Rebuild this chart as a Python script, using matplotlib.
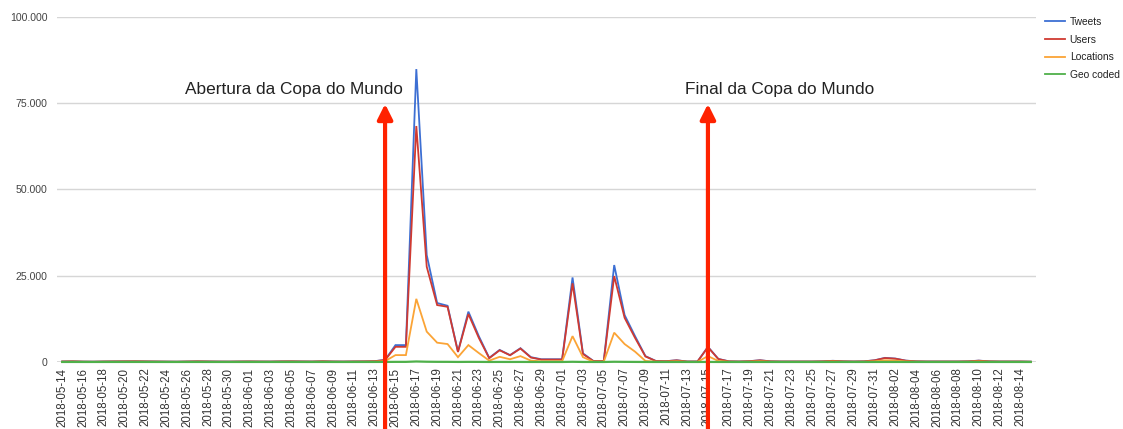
import matplotlib
matplotlib.use("Agg")
import matplotlib.pyplot as plt
import pandas as pd
from matplotlib.lines import Line2D

plt.rcParams['font.family'] = ['Liberation Sans', 'DejaVu Sans']

dates = pd.date_range('2018-05-14', '2018-08-15').strftime('%Y-%m-%d').tolist()

tweets = [150, 200, 120, 100, 150, 180, 200, 220, 180, 150, 120, 100, 150, 200, 160, 130,
          120, 150, 170, 140, 130, 180, 200, 160, 140, 220, 150, 130, 170, 190, 250,
          600, 4900, 4900, 84900, 31000, 17100, 16300, 3000, 14600, 7500, 1200, 3500, 2000,
          4000, 1400, 800, 800, 800, 24500, 2500, 300, 300, 28100, 13600, 7500, 1700, 300,
          250, 500, 150, 150, 4400, 900, 200, 150, 250, 500, 200, 150, 150, 150, 150, 200,
          350, 200, 150, 200, 500, 1200, 1000, 400, 200, 150, 150, 150, 150, 200, 400, 200,
          150, 150, 150, 100]
users = [140, 190, 110, 90, 140, 170, 190, 210, 170, 140, 110, 90, 140, 190, 150, 120,
         110, 140, 160, 130, 120, 170, 190, 150, 130, 210, 140, 120, 160, 180, 240,
         550, 4400, 4400, 68400, 27600, 16500, 16000, 2900, 13900, 7000, 1100, 3400, 1950,
         3900, 1300, 700, 700, 700, 22800, 2300, 280, 280, 24900, 12800, 7000, 1600, 280,
         240, 480, 140, 140, 4300, 850, 190, 140, 240, 480, 190, 140, 140, 140, 140, 190,
         330, 190, 140, 190, 480, 1150, 950, 380, 190, 140, 140, 140, 140, 190, 380, 190,
         140, 140, 140, 90]
locations = [60, 80, 50, 40, 60, 70, 80, 90, 70, 60, 50, 40, 60, 80, 60, 50,
             50, 60, 70, 60, 50, 70, 80, 60, 60, 90, 60, 50, 70, 80, 100,
             250, 2000, 2000, 18300, 8800, 5600, 5200, 1400, 4900, 2600, 400, 1500, 800,
             1700, 400, 200, 200, 200, 7500, 1400, 100, 100, 8500, 5200, 3000, 300, 100,
             100, 200, 60, 60, 1700, 300, 80, 60, 100, 200, 80, 60, 60, 60, 60, 80,
             140, 80, 60, 80, 200, 500, 400, 160, 80, 60, 60, 60, 60, 80, 160, 80,
             60, 60, 60, 40]
geo_coded = [10, 12, 8, 8, 10, 12, 12, 14, 12, 10, 8, 8, 10, 12, 10, 9,
             8, 10, 11, 10, 9, 12, 12, 10, 10, 14, 10, 9, 11, 12, 14,
             20, 40, 40, 150, 80, 50, 45, 20, 40, 30, 12, 20, 15,
             20, 12, 10, 10, 10, 60, 15, 8, 8, 70, 40, 25, 12, 8,
             8, 10, 8, 8, 20, 10, 8, 8, 8, 10, 8, 8, 8, 8, 8, 8,
             9, 8, 8, 8, 10, 14, 12, 9, 8, 8, 8, 8, 8, 8, 9, 8,
             8, 8, 8, 6]

series_names = ['Tweets', 'Users', 'Locations', 'Geo coded']
series_colors = ['#3d6fd3', '#d03a31', '#fba436', '#4fb04a']
series_widths = [1.3, 1.3, 1.3, 1.6]
series = [tweets, users, locations, geo_coded]

yticks = [0, 25000, 50000, 75000, 100000]
ytick_labels = ['0', '25.000', '50.000', '75.000', '100.000']

events = [('2018-06-14', 'Abertura da Copa do Mundo'), ('2018-07-15', 'Final da Copa do Mundo')]

fig = plt.figure(figsize=(11.23, 4.29), dpi=100)
ax = fig.add_axes([57/1123, 1 - 362/429, (1036 - 57)/1123, 345/429])

x = list(range(len(dates)))
for i, (name, color, lw, vals) in enumerate(zip(series_names, series_colors, series_widths, series)):
    ax.plot(x, vals, color=color, lw=lw, label=name, zorder=3 + i,
            solid_joinstyle='miter', clip_on=False)

ax.set_xlim(-0.5, len(dates) - 0.5)
ax.set_ylim(0, 100000)
ax.set_yticks(yticks)
ax.set_yticklabels(ytick_labels)
for yv in yticks[1:]:
    ax.axhline(yv, color='#d6d6d6', lw=1, zorder=1)
ax.axhline(0, color='#444444', lw=1, zorder=2)

ax.set_xticks(x[::2])
ax.set_xticklabels(dates[::2], rotation=90, fontsize=8.3, color='#333333')
ax.tick_params(axis='x', length=0, pad=4)
ax.tick_params(axis='y', length=0, pad=7, labelsize=7.6, labelcolor='#444444')
for s in ax.spines.values():
    s.set_visible(False)

# Event arrows and labels
ev_idx0 = dates.index(events[0][0])
ev_idx1 = dates.index(events[1][0])
for idx in (ev_idx0, ev_idx1):
    ax.annotate('', xy=(idx, 74800), xycoords='data',
                xytext=(idx, -0.2), textcoords=('data', 'axes fraction'),
                arrowprops=dict(arrowstyle='-|>,head_length=0.9,head_width=0.45',
                                color='#ff2200', lw=3, shrinkA=0, shrinkB=0),
                annotation_clip=False, zorder=10)
ax.text(ev_idx0 + 1.7, 79100, events[0][1], ha='right', va='center', fontsize=12.4, color='#222222')
ax.text(ev_idx1 + 6.9, 79100, events[1][1], ha='center', va='center', fontsize=12.4, color='#222222')

handles = [Line2D([0], [0], color=c, lw=1.3) for c in series_colors]
fig.legend(handles, series_names, loc='upper left', bbox_to_anchor=(1045/1123, 1 - 17/429),
           frameon=False, fontsize=7.4, handlelength=1.9, handletextpad=0.5,
           labelspacing=0.74, borderaxespad=0, borderpad=0, labelcolor='#222222')

fig.savefig('out.png', dpi=100)
